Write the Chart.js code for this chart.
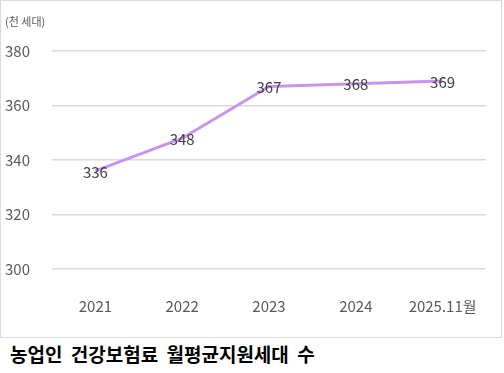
<!DOCTYPE html>
<html>
<head>
<meta charset="utf-8">
<script src="https://cdn.jsdelivr.net/npm/chart.js@4.4.1/dist/chart.umd.min.js"></script>
<style>
  body { margin: 0; background: #fff; }
  #caja { position: absolute; left: 0; top: 0; width: 500px; height: 336px; border: 1px solid #d9d9d9; }
  #titulo { position: absolute; left: 10px; top: 340px; font: bold 19px "Noto Sans CJK KR", sans-serif; word-spacing: 4px; color: #000; white-space: nowrap; }
</style>
</head>
<body>
<div id="caja"><canvas id="myChart" width="500" height="336"></canvas></div>
<div id="titulo">농업인 건강보험료 월평균지원세대 수</div>
<script>
// Datos del grafico
const categorias = ["2021", "2022", "2023", "2024", "2025.11월"];
const valores = [336, 348, 367, 368, 369];
const unidad = "(천 세대)";
const ejeMin = 300, ejeMax = 380, paso = 20;

const fuente = '"Noto Sans CJK KR", "Noto Sans", sans-serif';

// Plugin para las etiquetas de los puntos y la unidad
const etiquetas = {
    id: "etiquetas",
    afterDatasetsDraw(chart) {
        const ctx = chart.ctx;
        const meta = chart.getDatasetMeta(0);
        ctx.save();
        ctx.font = "15px " + fuente;
        ctx.fillStyle = "#404040";
        ctx.textAlign = "center";
        ctx.textBaseline = "middle";
        meta.data.forEach((p, i) => {
            ctx.fillText(valores[i], p.x, p.y + 1);
        });
        ctx.font = "11px " + fuente;
        ctx.fillStyle = "#595959";
        ctx.textAlign = "left";
        ctx.fillText(unidad, 4, 21);
        ctx.restore();
    }
};

new Chart(document.getElementById("myChart"), {
    type: "line",
    data: {
        labels: categorias,
        datasets: [{
            data: valores,
            borderColor: "#c894f0",
            borderWidth: 3,
            pointRadius: 0,
            fill: false,
            tension: 0
        }]
    },
    options: {
        responsive: false,
        animation: false,
        layout: { padding: { left: 4, right: 15, top: 50, bottom: 0 } },
        plugins: { legend: { display: false }, tooltip: { enabled: false } },
        scales: {
            x: {
                offset: true,
                grid: { display: false },
                border: { display: false },
                ticks: { color: "#595959", font: { family: fuente, size: 15 }, padding: 20, maxRotation: 0 },
                afterFit(s) { s.height = 68; }
            },
            y: {
                min: ejeMin,
                max: ejeMax,
                ticks: { stepSize: paso, color: "#595959", font: { family: fuente, size: 15 }, crossAlign: "far", padding: 10 },
                grid: { color: "#d9d9d9", lineWidth: 1.5, drawTicks: false },
                border: { display: false },
                afterFit(s) { s.width = 47; }
            }
        }
    },
    plugins: [etiquetas]
});
</script>
</body>
</html>
